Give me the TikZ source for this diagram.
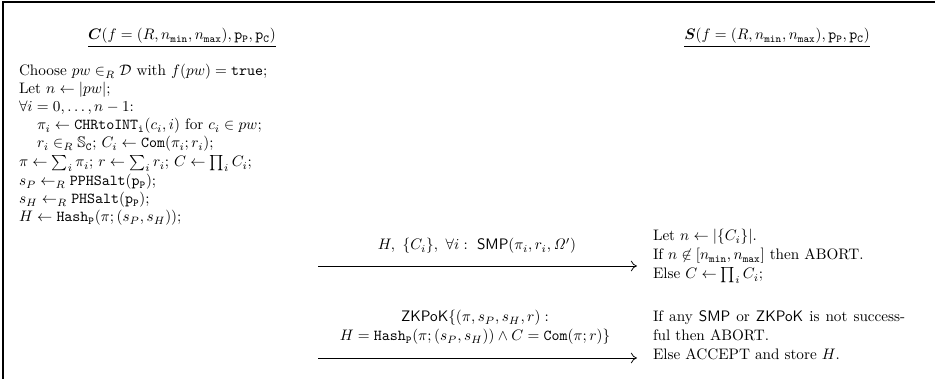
\documentclass[tikz,border=0pt]{standalone}
\usepackage{amsmath,amssymb,bm}
\usetikzlibrary{arrows.meta}
\newcommand{\ttsub}[1]{\mathtt{#1}}
\tikzset{
  ln/.style={anchor=base west, inner sep=0pt, outer sep=0pt},
  ttl/.style={anchor=base, inner sep=0pt},
  lbl/.style={anchor=base, inner sep=0pt, align=center},
  msg/.style={-{To[length=4pt,width=7pt]}, line width=0.5pt},
  frame/.style={line width=0.8pt}
}
\begin{document}
\begin{tikzpicture}[x=0.658pt,y=-0.658pt]
\useasboundingbox (0,0) rectangle (935,379);
\coordinate (tl) at (3,2);
\coordinate (tr) at (935,2);
\coordinate (bl) at (3,379);
\draw[frame] (tr) -- (tl) -- (bl);
% titles
\node[ttl] (tc) at (182,40) {$\underline{\bm{C}(f=(R,n_{\ttsub{min}},n_{\ttsub{max}}),\mathtt{p}_{\ttsub{P}},\mathtt{p}_{\ttsub{C}})}$};
\node[ttl] (ts) at (777,40) {$\underline{\bm{S}(f=(R,n_{\ttsub{min}},n_{\ttsub{max}}),\mathtt{p}_{\ttsub{P}},\mathtt{p}_{\ttsub{C}})}$};
% client lines
\node[ln] (l1) at (19,76) {Choose $pw\in_R\mathcal{D}$ with $f(pw)=\texttt{true}$;};
\node[ln] (l2) at (19,94) {Let $n\leftarrow|pw|$;};
\node[ln] (l3) at (19,112) {$\forall i=0,\ldots,n-1$:};
\node[ln] (l4) at (37,130) {$\pi_i\leftarrow\mathtt{CHRtoINT}_{\ttsub{i}}(c_i,i)$ for $c_i\in pw$;};
\node[ln] (l5) at (37,148) {$r_i\in_R\mathbb{S}_{\ttsub{C}}$; $C_i\leftarrow\mathtt{Com}(\pi_i;r_i)$;};
\node[ln] (l6) at (19,167) {$\pi\leftarrow\sum_i\pi_i$; $r\leftarrow\sum_i r_i$; $C\leftarrow\prod_i C_i$;};
\node[ln] (l7) at (19,186) {$s_P\leftarrow_R\mathtt{PPHSalt}(\mathtt{p}_{\ttsub{P}})$;};
\node[ln] (l8) at (19,204) {$s_H\leftarrow_R\mathtt{PHSalt}(\mathtt{p}_{\ttsub{P}})$;};
\node[ln] (l9) at (19,222) {$H\leftarrow\mathtt{Hash}_{\ttsub{P}}(\pi;(s_P,s_H))$;};
% messages
\coordinate (a1s) at (318,266);
\coordinate (a1e) at (637,266);
\draw[msg] (a1s) -- (a1e);
\node[lbl] (m1) at (477,250) {$H,\ \{C_i\},\ \forall i:\ \mathsf{SMP}(\pi_i,r_i,\mathit{\Omega}')$};
\coordinate (a2s) at (318,358);
\coordinate (a2e) at (637,358);
\draw[msg] (a2s) -- (a2e);
\node[lbl] (m2a) at (475,322) {$\mathsf{ZKPoK}\{(\pi,s_P,s_H,r):$};
\node[lbl] (m2b) at (475,341) {$H=\mathtt{Hash}_{\ttsub{P}}(\pi;(s_P,s_H))\wedge C=\mathtt{Com}(\pi;r)\}$};
% server lines
\node[ln] (r1) at (653,241) {Let $n\leftarrow|\{C_i\}|$.};
\node[ln] (r2) at (653,260) {If $n\not\in[n_{\ttsub{min}},n_{\ttsub{max}}]$ then ABORT.};
\node[ln] (r3) at (653,279) {Else $C\leftarrow\prod_i C_i$;};
\node[ln] (r4) at (653,322) {\makebox[166pt][s]{If any $\mathsf{SMP}$ or $\mathsf{ZKPoK}$ is not success-}};
\node[ln] (r5) at (653,341) {ful then ABORT.};
\node[ln] (r6) at (653,360) {Else ACCEPT and store $H$.};
\end{tikzpicture}
\end{document}
